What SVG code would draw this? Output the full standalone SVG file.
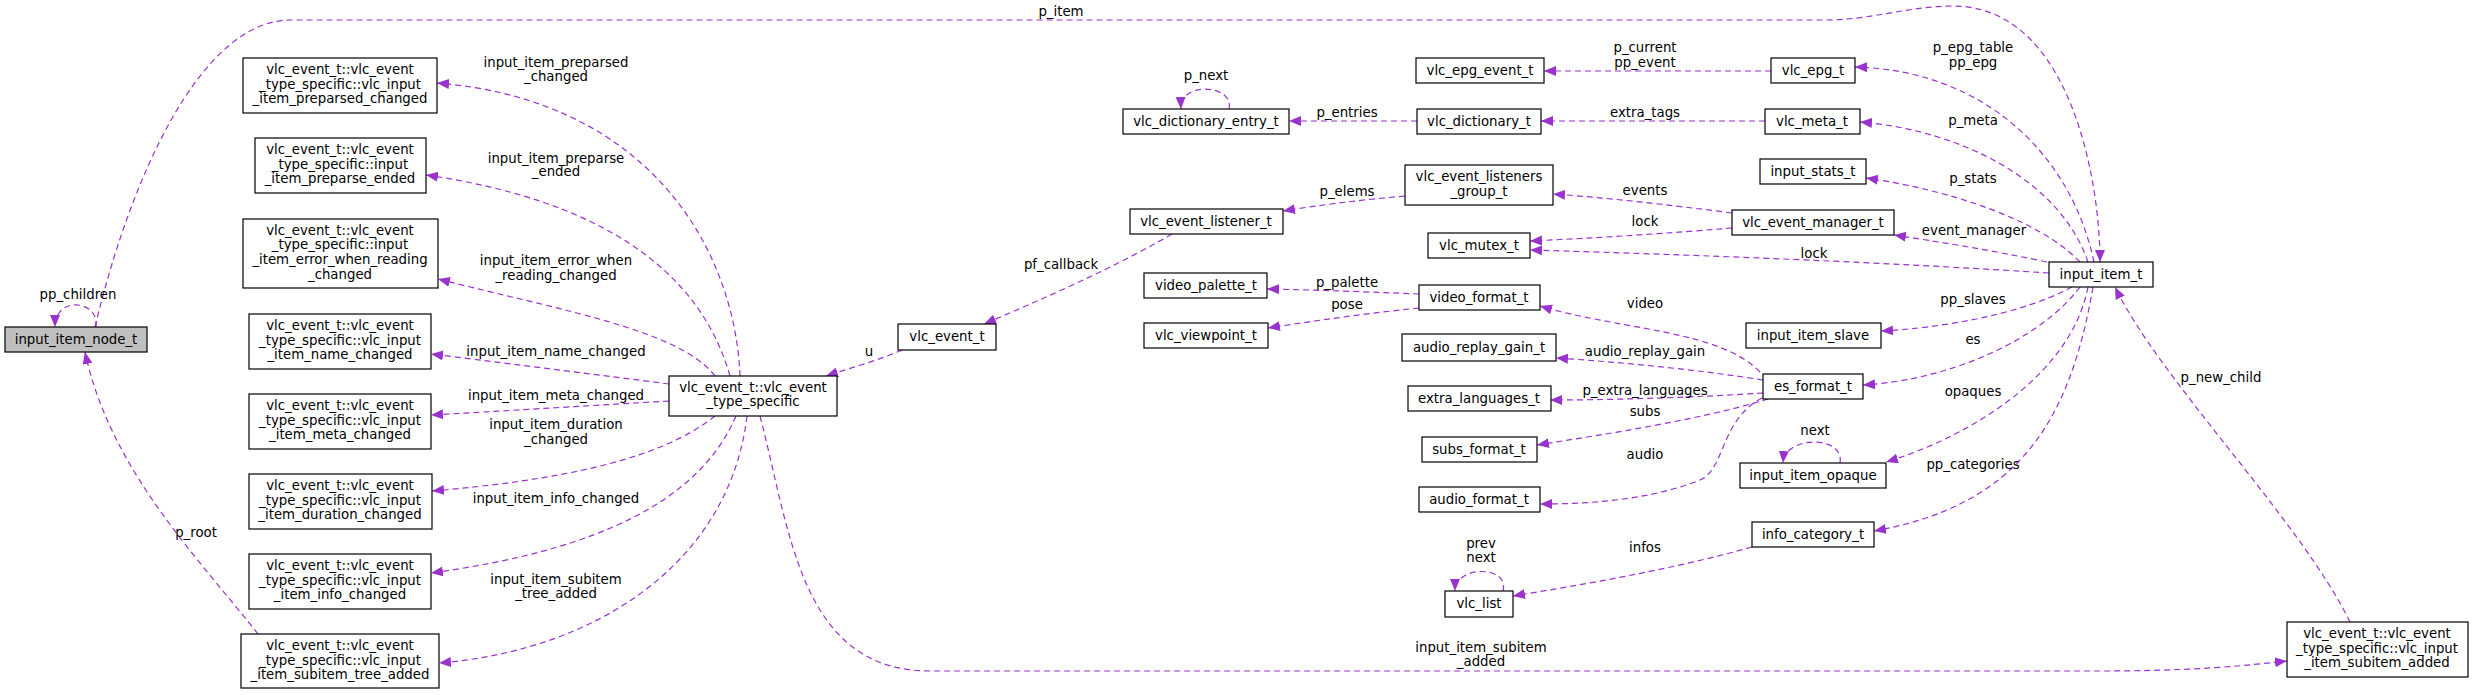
<svg xmlns="http://www.w3.org/2000/svg" width="2473" height="695" viewBox="0 0 2473 695">
<style>
.n rect{fill:#fff;stroke:#000;stroke-width:1.2}
.g rect{fill:#bfbfbf}
text{font-family:"DejaVu Sans",sans-serif;font-size:13.3px;fill:#000;text-anchor:middle}
#edges path{fill:none;stroke:#9a32cd;stroke-width:1.2;stroke-dasharray:6,4;marker-end:url(#a)}
</style>
<defs><marker id="a" markerUnits="userSpaceOnUse" markerWidth="14" markerHeight="12" refX="12" refY="5" orient="auto"><path d="M0,0 L12,5 L0,10 Z" fill="#9a32cd"/></marker></defs>
<rect width="2473" height="695" fill="#fff"/>
<g id="edges">
<path d="M95,327 C130,180 200,20 291,20 L1826,20 C1870,20 1910,6 1953,6 C2070,6 2100,180 2100,262"/>
<path d="M96,327 C100,300 55,295 55,327"/>
<path d="M258,634 C200,560 110,470 85,352"/>
<path d="M740,376 C735,250 650,100 437,83"/>
<path d="M730,376 C700,270 600,200 426,175"/>
<path d="M715,376 C680,330 560,310 438,279"/>
<path d="M669,384 C600,375 520,365 431,354"/>
<path d="M669,401 C600,405 520,410 431,415"/>
<path d="M715,416 C660,460 560,480 432,491"/>
<path d="M736,416 C700,500 600,550 431,573"/>
<path d="M747,416 C730,560 600,650 439,663"/>
<path d="M760,416 C790,530 800,671 930,671 L2100,671 C2200,671 2250,665 2287,661"/>
<path d="M2350,622 C2300,520 2160,380 2115,287"/>
<path d="M902,350 C880,360 850,368 826,376"/>
<path d="M1172,234 C1110,270 1040,300 984,324"/>
<path d="M1405,196 C1360,200 1320,205 1283,211"/>
<path d="M1732,213 C1670,205 1610,198 1553,194"/>
<path d="M1732,228 C1670,233 1600,238 1530,241"/>
<path d="M2049,273 C1880,262 1700,255 1530,250"/>
<path d="M2047,262 C1990,250 1940,242 1894,235"/>
<path d="M2080,262 C2040,220 1950,190 1866,178"/>
<path d="M2088,262 C2060,180 1960,130 1860,122"/>
<path d="M2094,262 C2070,150 1980,70 1855,67"/>
<path d="M1771,71 L1544,71"/>
<path d="M1765,121 L1541,121"/>
<path d="M1417,121 L1289,121"/>
<path d="M1229,109 C1235,85 1180,80 1181,109"/>
<path d="M1419,294 C1370,292 1320,290 1267,289"/>
<path d="M1419,308 C1370,313 1320,320 1268,328"/>
<path d="M1760,372 C1720,330 1620,330 1540,306"/>
<path d="M1763,380 C1700,370 1620,362 1556,358"/>
<path d="M1763,393 C1700,397 1620,400 1550,400"/>
<path d="M1768,399 C1700,420 1600,435 1537,445"/>
<path d="M1762,398 C1720,420 1725,470 1700,480 C1650,500 1590,504 1540,504"/>
<path d="M2072,287 C2020,315 1940,328 1881,331"/>
<path d="M2080,287 C2040,340 1950,380 1863,385"/>
<path d="M2088,287 C2070,380 1960,440 1886,462"/>
<path d="M1840,463 C1845,435 1785,435 1783,463"/>
<path d="M2093,287 C2070,420 2020,505 1874,531"/>
<path d="M1752,547 C1670,570 1580,585 1513,596"/>
<path d="M1503,591 C1510,565 1455,565 1455,591"/>
</g>
<g id="labels">
<text x="1061" y="16">p_item</text>
<text x="78" y="299">pp_children</text>
<text x="196" y="537">p_root</text>
<text x="556" y="67">input_item_preparsed</text><text x="556" y="81">_changed</text>
<text x="556" y="163">input_item_preparse</text><text x="556" y="176">_ended</text>
<text x="556" y="265">input_item_error_when</text><text x="556" y="280">_reading_changed</text>
<text x="556" y="356">input_item_name_changed</text>
<text x="556" y="400">input_item_meta_changed</text>
<text x="556" y="429">input_item_duration</text><text x="556" y="444">_changed</text>
<text x="556" y="503">input_item_info_changed</text>
<text x="556" y="584">input_item_subitem</text><text x="556" y="598">_tree_added</text>
<text x="1481" y="652">input_item_subitem</text><text x="1481" y="666">_added</text>
<text x="869" y="356">u</text>
<text x="1061" y="269">pf_callback</text>
<text x="1347" y="196">p_elems</text>
<text x="1206" y="80">p_next</text>
<text x="1347" y="117">p_entries</text>
<text x="1347" y="287">p_palette</text>
<text x="1347" y="309">pose</text>
<text x="1645" y="52">p_current</text><text x="1645" y="67">pp_event</text>
<text x="1645" y="117">extra_tags</text>
<text x="1645" y="195">events</text>
<text x="1645" y="226">lock</text>
<text x="1814" y="258">lock</text>
<text x="1645" y="308">video</text>
<text x="1645" y="356">audio_replay_gain</text>
<text x="1645" y="395">p_extra_languages</text>
<text x="1645" y="416">subs</text>
<text x="1645" y="459">audio</text>
<text x="1645" y="552">infos</text>
<text x="1481" y="548">prev</text><text x="1481" y="562">next</text>
<text x="1815" y="435">next</text>
<text x="1973" y="52">p_epg_table</text><text x="1973" y="67">pp_epg</text>
<text x="1973" y="125">p_meta</text>
<text x="1973" y="183">p_stats</text>
<text x="1974" y="235">event_manager</text>
<text x="1973" y="304">pp_slaves</text>
<text x="1973" y="344">es</text>
<text x="1973" y="396">opaques</text>
<text x="1973" y="469">pp_categories</text>
<text x="2221" y="382">p_new_child</text>
</g>
<g id="input_item_node_t" class="n g"><rect x="5" y="327" width="142" height="25"/><text x="76" y="344">input_item_node_t</text></g>
<g id="preparsed_changed" class="n"><rect x="243" y="58" width="194" height="55"/><text x="340" y="74">vlc_event_t::vlc_event</text><text x="340" y="89">_type_specific::vlc_input</text><text x="340" y="103">_item_preparsed_changed</text></g>
<g id="preparse_ended" class="n"><rect x="255" y="138" width="171" height="55"/><text x="340" y="154">vlc_event_t::vlc_event</text><text x="340" y="169">_type_specific::input</text><text x="340" y="183">_item_preparse_ended</text></g>
<g id="error_when_reading" class="n"><rect x="243" y="219" width="195" height="69"/><text x="340" y="235">vlc_event_t::vlc_event</text><text x="340" y="249">_type_specific::input</text><text x="340" y="264">_item_error_when_reading</text><text x="340" y="279">_changed</text></g>
<g id="name_changed" class="n"><rect x="249" y="314" width="182" height="55"/><text x="340" y="330">vlc_event_t::vlc_event</text><text x="340" y="345">_type_specific::vlc_input</text><text x="340" y="359">_item_name_changed</text></g>
<g id="meta_changed" class="n"><rect x="249" y="394" width="182" height="55"/><text x="340" y="410">vlc_event_t::vlc_event</text><text x="340" y="425">_type_specific::vlc_input</text><text x="340" y="439">_item_meta_changed</text></g>
<g id="duration_changed" class="n"><rect x="249" y="474" width="183" height="55"/><text x="340" y="490">vlc_event_t::vlc_event</text><text x="340" y="505">_type_specific::vlc_input</text><text x="340" y="519">_item_duration_changed</text></g>
<g id="info_changed" class="n"><rect x="249" y="554" width="182" height="55"/><text x="340" y="570">vlc_event_t::vlc_event</text><text x="340" y="585">_type_specific::vlc_input</text><text x="340" y="599">_item_info_changed</text></g>
<g id="subitem_tree_added" class="n"><rect x="241" y="634" width="198" height="54"/><text x="340" y="650">vlc_event_t::vlc_event</text><text x="340" y="665">_type_specific::vlc_input</text><text x="340" y="679">_item_subitem_tree_added</text></g>
<g id="type_specific" class="n"><rect x="669" y="376" width="168" height="40"/><text x="753" y="392">vlc_event_t::vlc_event</text><text x="753" y="406">_type_specific</text></g>
<g id="vlc_event_t" class="n"><rect x="898" y="324" width="98" height="26"/><text x="947" y="341">vlc_event_t</text></g>
<g id="vlc_event_listener_t" class="n"><rect x="1130" y="209" width="153" height="25"/><text x="1206" y="226">vlc_event_listener_t</text></g>
<g id="vlc_dictionary_entry_t" class="n"><rect x="1123" y="109" width="166" height="25"/><text x="1206" y="126">vlc_dictionary_entry_t</text></g>
<g id="video_palette_t" class="n"><rect x="1144" y="273" width="123" height="25"/><text x="1206" y="290">video_palette_t</text></g>
<g id="vlc_viewpoint_t" class="n"><rect x="1144" y="323" width="124" height="25"/><text x="1206" y="340">vlc_viewpoint_t</text></g>
<g id="vlc_epg_event_t" class="n"><rect x="1416" y="58" width="128" height="25"/><text x="1480" y="75">vlc_epg_event_t</text></g>
<g id="vlc_dictionary_t" class="n"><rect x="1417" y="109" width="124" height="25"/><text x="1479" y="126">vlc_dictionary_t</text></g>
<g id="vlc_event_listeners_group_t" class="n"><rect x="1405" y="165" width="148" height="40"/><text x="1479" y="181">vlc_event_listeners</text><text x="1479" y="196">_group_t</text></g>
<g id="vlc_mutex_t" class="n"><rect x="1428" y="233" width="102" height="25"/><text x="1479" y="250">vlc_mutex_t</text></g>
<g id="video_format_t" class="n"><rect x="1419" y="285" width="121" height="25"/><text x="1479" y="302">video_format_t</text></g>
<g id="audio_replay_gain_t" class="n"><rect x="1402" y="334" width="154" height="27"/><text x="1479" y="352">audio_replay_gain_t</text></g>
<g id="extra_languages_t" class="n"><rect x="1408" y="386" width="143" height="25"/><text x="1479" y="403">extra_languages_t</text></g>
<g id="subs_format_t" class="n"><rect x="1422" y="437" width="115" height="25"/><text x="1479" y="454">subs_format_t</text></g>
<g id="audio_format_t" class="n"><rect x="1419" y="487" width="121" height="25"/><text x="1479" y="504">audio_format_t</text></g>
<g id="vlc_list" class="n"><rect x="1445" y="591" width="68" height="26"/><text x="1479" y="608">vlc_list</text></g>
<g id="vlc_epg_t" class="n"><rect x="1771" y="58" width="84" height="25"/><text x="1813" y="75">vlc_epg_t</text></g>
<g id="vlc_meta_t" class="n"><rect x="1765" y="109" width="95" height="25"/><text x="1812" y="126">vlc_meta_t</text></g>
<g id="input_stats_t" class="n"><rect x="1760" y="159" width="106" height="25"/><text x="1813" y="176">input_stats_t</text></g>
<g id="vlc_event_manager_t" class="n"><rect x="1732" y="210" width="162" height="25"/><text x="1813" y="227">vlc_event_manager_t</text></g>
<g id="input_item_slave" class="n"><rect x="1746" y="323" width="135" height="25"/><text x="1813" y="340">input_item_slave</text></g>
<g id="es_format_t" class="n"><rect x="1763" y="374" width="100" height="25"/><text x="1813" y="391">es_format_t</text></g>
<g id="input_item_opaque" class="n"><rect x="1740" y="463" width="146" height="25"/><text x="1813" y="480">input_item_opaque</text></g>
<g id="info_category_t" class="n"><rect x="1752" y="522" width="122" height="25"/><text x="1813" y="539">info_category_t</text></g>
<g id="input_item_t" class="n"><rect x="2049" y="262" width="104" height="25"/><text x="2101" y="279">input_item_t</text></g>
<g id="subitem_added" class="n"><rect x="2287" y="622" width="181" height="55"/><text x="2377" y="638">vlc_event_t::vlc_event</text><text x="2377" y="653">_type_specific::vlc_input</text><text x="2377" y="667">_item_subitem_added</text></g>
</svg>
